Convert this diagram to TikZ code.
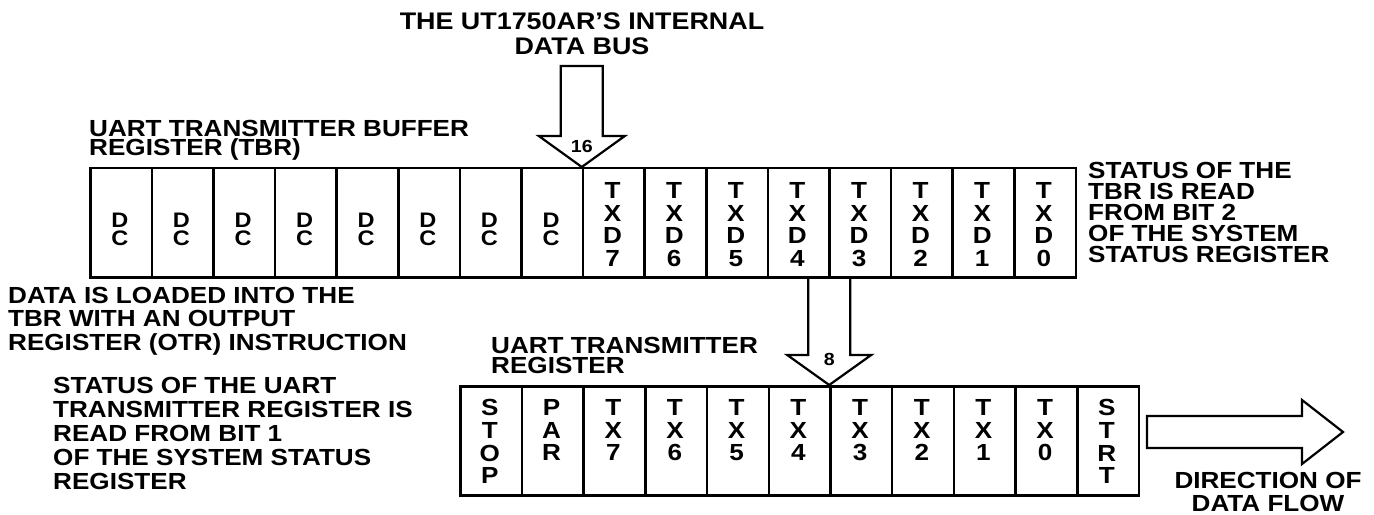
\documentclass[tikz,border=0pt]{standalone}
\usepackage{fontspec}
\setmainfont{Liberation Sans}[FakeStretch=1.12]
\usetikzlibrary{calc}
\newcommand\fs[2]{\fontsize{#1bp}{#2bp}\selectfont\bfseries}
\tikzset{
  cellbox/.style={draw, line width=2.5bp, minimum width=61.6bp, minimum height=109bp, inner sep=0pt, anchor=north west},
  rcellbox/.style={cellbox, minimum width=61.7bp},
  celltxt/.style={inner sep=0pt, align=center, anchor=north, font=\fs{23.3}{22.8}},
  dctxt/.style={inner sep=0pt, align=center, anchor=north, font=\fs{21}{18}},
  lab/.style={inner sep=0pt, align=left, anchor=north west},
  arrowline/.style={draw, line width=2.2bp, line join=miter},
  numtxt/.style={inner sep=0pt, font=\fs{17.5}{17.5}},
}
\begin{document}
\begin{tikzpicture}[x=1bp,y=-1bp]
\useasboundingbox (0,0) rectangle (1374,515);

% --- transmitter buffer register (TBR) ---
\foreach \i in {0,...,15} {
  \node[cellbox] (t\i) at ({89+61.6*\i},167) {};
}
\foreach \i in {0,...,7} {
  \node[dctxt] at ({89+61.6*(\i+0.5)},213) {D\\C};
}
\foreach \i [evaluate=\i as \b using int(15-\i)] in {8,...,15} {
  \node[celltxt] at ({89+61.6*(\i+0.5)},182) {T\\X\\D\\\b};
}

% --- UART transmitter register ---
\foreach \i in {0,...,10} {
  \node[rcellbox] (r\i) at ({459+61.7*\i},385) {};
}
\foreach \i/\t in {0/{S\\T\\O\\P},1/{P\\A\\R},2/{T\\X\\7},3/{T\\X\\6},4/{T\\X\\5},5/{T\\X\\4},6/{T\\X\\3},7/{T\\X\\2},8/{T\\X\\1},9/{T\\X\\0},10/{S\\T\\R\\T}} {
  \node[celltxt] at ({459+61.7*(\i+0.5)},399) {\t};
}

% --- labels ---
\node[inner sep=0pt, align=center, anchor=north, font=\fs{24}{25}] (title) at (582,13) {THE UT1750AR’S INTERNAL\\DATA BUS};
\node[lab, font=\fs{23.3}{19}] (tbrlab) at (89,120) {UART TRANSMITTER BUFFER\\REGISTER (TBR)};
\node[lab, font=\fs{23.3}{21}] (tbrstat) at (1088,162) {STATUS OF THE\\TBR IS READ\\FROM BIT 2\\OF THE SYSTEM\\STATUS REGISTER};
\node[lab, font=\fs{23.3}{23.3}] (load) at (8,287) {DATA IS LOADED INTO THE\\TBR WITH AN OUTPUT\\REGISTER (OTR) INSTRUCTION};
\node[lab, font=\fs{23.3}{24}] (utrstat) at (53,377) {STATUS OF THE UART\\TRANSMITTER REGISTER IS\\READ FROM BIT 1\\OF THE SYSTEM STATUS\\REGISTER};
\node[lab, font=\fs{23.3}{20.5}] (utrlab) at (491,337) {UART TRANSMITTER\\REGISTER};
\node[inner sep=0pt, align=center, anchor=north, font=\fs{23.3}{23}] (dir) at (1268,472) {DIRECTION OF\\DATA FLOW};

% --- 16-bit bus arrow into the TBR ---
\coordinate (tipA) at (t8.north west);
\draw[arrowline] (tipA) -- ++(43,-31) -- ++(-22,0) -- ++(0,-70) -- ++(-42,0) -- ++(0,70) -- ++(-22,0) -- cycle;
\node[numtxt] (n16) at ($(tipA)+(0,-21)$) {16};

% --- 8-bit arrow from TBR to transmitter register ---
\coordinate (tipB) at (r6.north west);
\draw[arrowline] ($(tipB)+(-21,-109)$) -- ++(0,79) -- ++(-21,0) -- (tipB) -- ++(42,-30) -- ++(-21,0) -- ++(0,-79);
\node[numtxt] (n8) at ($(tipB)+(0,-26)$) {8};

% --- direction of data flow arrow ---
\coordinate (flowtip) at (1343,432);
\draw[arrowline] (flowtip) -- ++(-41,-32) -- ++(0,16) -- ++(-155,0) -- ++(0,32) -- ++(155,0) -- ++(0,16) -- cycle;
\end{tikzpicture}
\end{document}
